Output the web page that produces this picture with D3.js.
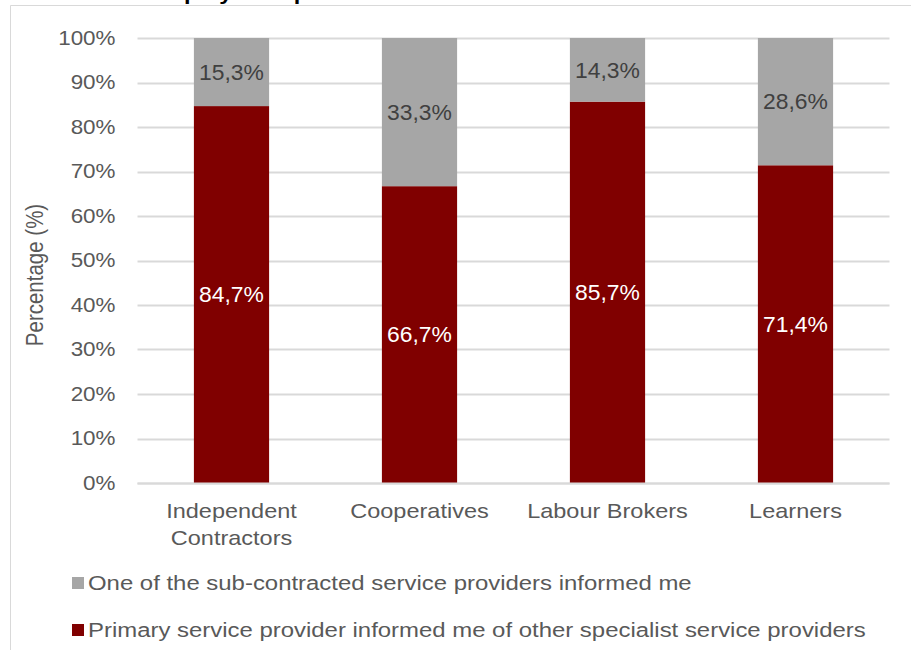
<!DOCTYPE html>
<html><head><meta charset="utf-8">
<script src="https://cdn.jsdelivr.net/npm/d3@7/dist/d3.min.js"></script>
<style>
body{margin:0;background:#fff;}
text{font-family:Arial,"Liberation Sans",sans-serif;}
</style></head>
<body><svg id="c" width="911" height="650"></svg>
<script>
const categories = [["Independent","Contractors"],["Cooperatives"],["Labour Brokers"],["Learners"]];
const primary = [84.7, 66.7, 85.7, 71.4];
const subcontracted = [15.3, 33.3, 14.3, 28.6];
const seriesNames = ["One of the sub-contracted service providers informed me","Primary service provider informed me of other specialist service providers"];
const yTicks = [0,10,20,30,40,50,60,70,80,90,100];
const title = "Source of information on non-employed at premises";

const svg = d3.select("#c");
const colRed = "#800000", colGray = "#a6a6a6", textCol = "#595959";

function txt(parent, x, y, s, size, sx, anchor){
  return parent.append("text").attr("transform",`translate(${x},${y}) scale(${sx},1)`)
    .attr("text-anchor",anchor||"start").attr("font-size",size).text(s);
}

// frame
svg.append("line").attr("x1",10.5).attr("x2",911).attr("y1",5.5).attr("y2",5.5).attr("stroke","#d9d9d9");
svg.append("line").attr("x1",10.5).attr("x2",10.5).attr("y1",5.5).attr("y2",650).attr("stroke","#d9d9d9");
txt(svg,397,0,title,21,1.12,"end").attr("font-weight","bold").attr("fill","#000");

const x = d3.scaleBand().domain(categories.map((d,i)=>i)).range([137.5,889.5]).paddingInner(0.6).paddingOuter(0.3);
const y = d3.scaleLinear().domain([0,100]).range([483,38]);

// grid
svg.append("g").selectAll("line").data(yTicks).join("line")
 .attr("x1",137.5).attr("x2",889.5).attr("y1",d=>Math.round(y(d))+0.5).attr("y2",d=>Math.round(y(d))+0.5)
 .attr("stroke","#d9d9d9").attr("stroke-width",2);

const yAxis = svg.append("g").attr("transform","translate(137.5,0)")
 .call(d3.axisLeft(y).tickValues(yTicks).tickFormat(d=>d+"%").tickSize(0).tickPadding(22));
yAxis.select(".domain").remove();
yAxis.selectAll(".tick text").each(function(){
  const t = d3.select(this);
  const xx = +t.attr("x");
  t.attr("x",null).attr("transform",`translate(${xx},0) scale(1.15,1)`);
}).attr("font-size",19.5).attr("fill",textCol).attr("font-family","Arial, 'Liberation Sans', sans-serif");

svg.append("text").attr("transform","translate(43,275) rotate(-90) scale(1,1.15)").attr("text-anchor","middle")
 .attr("font-size",20.5).attr("fill",textCol).text("Percentage (%)");

const bw = x.bandwidth();
const g = svg.append("g");
categories.forEach((c,i)=>{
  const x0 = x(i), xc = x0+bw/2;
  g.append("rect").attr("x",x0).attr("width",bw).attr("y",y(primary[i])).attr("height",y(0)-y(primary[i])).attr("fill",colRed);
  g.append("rect").attr("x",x0).attr("width",bw).attr("y",y(primary[i]+subcontracted[i])).attr("height",y(primary[i])-y(primary[i]+subcontracted[i])).attr("fill",colGray);
  txt(g, xc, (y(0)+y(primary[i]))/2, primary[i].toFixed(1).replace(".",",")+"%", 22, 1.04, "middle")
   .attr("dy","0.35em").attr("fill","#fff");
  txt(g, xc, (y(primary[i])+y(primary[i]+subcontracted[i]))/2, subcontracted[i].toFixed(1).replace(".",",")+"%", 22, 1.04, "middle")
   .attr("dy","0.35em").attr("fill","#404040");
  c.forEach((line,j)=>txt(g, xc, 518+j*27, line, 21, 1.12, "middle").attr("fill",textCol));
});

// baseline
svg.append("line").attr("x1",137.5).attr("x2",889.5).attr("y1",483.5).attr("y2",483.5).attr("stroke","#d9d9d9").attr("stroke-width",2);

// legend
const legend = [[colGray,seriesNames[0],583],[colRed,seriesNames[1],630]];
legend.forEach(([col,name,cy])=>{
  svg.append("rect").attr("x",72).attr("y",cy-6).attr("width",12).attr("height",12).attr("fill",col);
  txt(svg, 88, cy, name, 21, 1.14, "start").attr("dy","0.35em").attr("fill",textCol);
});
</script></body></html>
